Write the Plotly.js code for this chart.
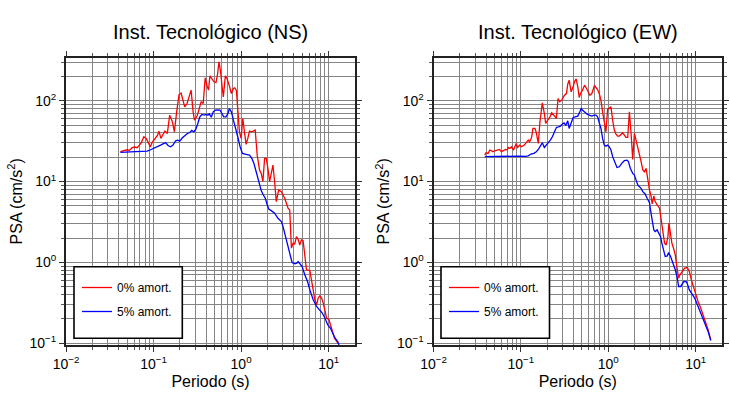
<!DOCTYPE html>
<html><head><meta charset="utf-8">
<script src="https://cdn.plot.ly/plotly-3.0.1.min.js"></script>
<style>html,body{margin:0;padding:0;background:#fff}#chart{width:730px;height:400px}</style>
</head><body><div id="chart"></div>
<script>
// ---------- Data: Inst. Tecnológico (NS) ----------
const T_NS_0 = [0.0418,0.0456,0.0498,0.0530,0.0569,0.0610,0.0649,0.0690,0.0728,0.0774,
0.0824,0.0869,0.0916,0.0966,0.1036,0.1112,0.1151,0.1214,0.1280,0.1349,
0.1436,0.1528,0.1640,0.1730,0.1837,0.1955,0.2061,0.2173,0.2270,0.2415,
0.2547,0.2685,0.2831,0.2931,0.3148,0.3319,0.3499,0.3690,0.3890,0.4064,
0.4246,0.4406,0.4645,0.4897,0.5164,0.5395,0.5585,0.5834,0.6047,0.6266,
0.6607,0.6902,0.7345,0.7745,0.8166,0.8453,0.8831,0.9162,0.9572,1.000,
1.045,1.092,1.141,1.193,1.247,1.326,1.399,1.449,1.527,1.625,
1.698,1.775,1.855,1.938,2.026,2.117,2.212,2.311,2.415,2.524,
2.685,2.884,3.013,3.148,3.289,3.437,3.592,3.690,3.756,3.924,
4.101,4.285,4.478,4.679,4.890,5.11,5.34,5.58,6.10,6.38,
6.66,6.96,7.28,7.60,7.95,8.31,8.68,9.07,9.48,10.09,
10.54,11.02,11.62,12.36,13.14];
const PSA_NS_0 = [23.4,23.8,24.7,24.3,26.2,26.7,26.2,28.2,30.5,35.8,
34.1,30.5,26.7,30.5,34.1,37.5,42.0,34.1,38.2,42.0,
39.3,66.2,54.8,41.2,72.8,119.1,123.8,101.4,83.9,92.2,
111.5,134.9,72.8,57.4,65.0,80.0,96.8,92.2,191.4,155.3,
134.9,202.8,187.9,171.0,167.6,216.3,301.3,226.9,155.3,111.5,
202.8,187.9,152.4,122.5,141.3,144.1,134.9,72.8,41.2,34.1,
60.3,41.2,28.8,34.1,42.0,41.2,42.0,43.3,21.2,13.9,
12.6,9.95,19.3,19.3,14.5,9.95,12.6,16.0,9.95,5.64,
7.85,7.49,6.81,6.20,5.38,4.67,4.45,2.52,1.50,1.73,
1.69,2.08,1.93,1.64,1.90,1.86,1.30,0.809,0.793,0.608,
0.457,0.344,0.299,0.361,0.386,0.361,0.313,0.259,0.205,0.195,
0.169,0.140,0.116,0.105,0.0958];
const T_NS_5 = [0.0418,0.0520,0.0621,0.0741,0.0846,0.0924,0.1009,0.1102,0.1203,0.1314,
0.1373,0.1475,0.1568,0.1668,0.1790,0.1887,0.1990,0.2136,0.2291,0.2438,
0.2594,0.2735,0.2884,0.3041,0.3206,0.3381,0.3565,0.3793,0.3961,0.4177,
0.4325,0.4561,0.4809,0.5071,0.5395,0.5741,0.6047,0.6321,0.6725,0.7092,
0.7345,0.7745,0.8166,0.8610,0.9162,0.9739,1.036,1.141,1.247,1.326,
1.399,1.487,1.555,1.625,1.698,1.775,1.888,1.990,2.080,2.212,
2.415,2.638,2.884,3.013,3.148,3.289,3.437,3.592,3.822,4.101,
4.325,4.478,4.679,4.979,5.34,5.74,6.10,6.66,7.28,7.95,
8.45,9.07,9.75,10.45,11.02,11.83,12.68,13.14];
const PSA_NS_5 = [22.9,23.4,23.4,23.6,23.8,24.7,25.7,26.7,28.2,29.6,
30.2,27.7,26.9,28.2,31.9,32.5,31.6,34.8,37.5,39.3,
40.4,42.8,41.2,44.5,52.2,63.1,67.5,66.2,67.5,66.2,
68.8,62.5,72.8,76.4,77.1,76.4,69.5,63.1,63.1,69.5,
80.0,72.8,57.4,47.5,35.8,26.9,22.3,21.6,21.2,19.3,
16.8,13.2,10.9,9.05,7.71,6.95,6.20,5.13,4.53,4.36,
4.05,3.51,3.19,2.77,2.29,1.81,1.50,1.24,0.995,0.957,
0.976,1.024,0.957,0.888,0.702,0.580,0.457,0.344,0.285,0.254,
0.236,0.205,0.169,0.154,0.134,0.116,0.105,0.0958];

// ---------- Data: Inst. Tecnológico (EW) ----------
const T_EW_0 = [0.0386,0.0399,0.0421,0.0441,0.0460,0.0477,0.0503,0.0535,0.0569,0.0600,
0.0621,0.0667,0.0697,0.0715,0.0748,0.0781,0.0824,0.0853,0.0883,0.0916,
0.0966,0.1018,0.1092,0.1151,0.1214,0.1258,0.1327,0.1373,0.1449,0.1500,
0.1582,0.1652,0.1758,0.1854,0.1921,0.2026,0.2136,0.2252,0.2374,0.2547,
0.2661,0.2783,0.2934,0.3148,0.3319,0.3438,0.3565,0.3758,0.3961,0.4102,
0.4285,0.4479,0.4645,0.4809,0.5071,0.5346,0.5636,0.5942,0.6152,0.6486,
0.6725,0.6966,0.7216,0.7540,0.7880,0.8238,0.8610,0.8995,0.9401,0.9825,
1.026,1.073,1.121,1.172,1.225,1.280,1.338,1.398,1.461,1.527,
1.596,1.668,1.743,1.822,1.904,1.990,2.080,2.174,2.272,2.374,
2.481,2.593,2.710,2.832,2.960,3.093,3.177,3.320,3.437,3.625,
3.857,4.031,4.213,4.402,4.601,4.808,4.937,5.16,5.34,5.64,
5.84,6.16,6.38,6.61,6.96,7.47,8.02,8.46,8.92,9.40,
9.91,10.64,11.41,12.14,12.92,13.86,14.87];
const PSA_EW_0 = [21.2,22.7,22.3,24.5,24.0,23.4,24.0,24.5,24.9,23.4,
23.8,24.9,24.5,26.4,25.7,26.9,24.5,27.4,29.6,26.4,
28.2,26.9,28.2,30.2,32.5,31.0,35.1,45.3,45.3,40.1,
29.6,54.8,94.0,69.5,52.2,57.4,62.0,70.8,66.2,60.3,
106.4,96.8,101.4,116.9,122.5,159.8,179.0,128.5,148.2,171.0,
186.1,148.2,109.4,122.5,134.9,155.3,141.3,125.0,116.9,122.5,
134.9,155.3,145.4,137.4,122.5,101.4,72.8,52.2,41.2,77.9,
80.0,83.9,57.4,43.3,38.6,36.5,36.5,38.6,40.1,37.5,
35.1,35.1,72.8,39.3,18.8,39.3,32.5,26.4,21.2,17.6,
13.9,13.2,14.5,10.4,7.85,6.50,5.28,6.62,5.64,5.13,
4.67,3.35,2.29,1.73,1.64,2.08,3.05,2.29,1.73,1.43,
1.24,0.809,0.638,0.702,0.771,0.847,0.863,0.771,0.608,0.503,
0.416,0.328,0.272,0.225,0.186,0.147,0.110];
const T_EW_5 = [0.0386,0.0512,0.0728,0.0948,0.1132,0.1214,0.1303,0.1410,0.1500,0.1582,
0.1668,0.1758,0.1854,0.1955,0.2061,0.2173,0.2291,0.2415,0.2547,0.2685,
0.2831,0.2985,0.3119,0.3261,0.3438,0.3565,0.3758,0.3961,0.4177,0.4479,
0.4724,0.4897,0.5164,0.5445,0.5741,0.6053,0.6486,0.6902,0.7216,0.7540,
0.7880,0.8238,0.8610,0.8995,0.9401,0.9825,1.026,1.073,1.121,1.193,
1.258,1.338,1.423,1.527,1.639,1.698,1.790,1.904,1.990,2.080,
2.174,2.272,2.374,2.481,2.638,2.782,2.960,3.039,3.149,3.320,
3.437,3.625,3.753,3.963,4.101,4.325,4.481,4.723,4.894,5.16,
5.34,5.64,5.84,6.16,6.38,6.72,6.96,7.34,7.74,8.02,
8.46,8.76,9.07,9.74,10.45,11.21,12.03,12.92,13.86,14.87];
const PSA_EW_5 = [20.3,20.5,20.6,20.6,20.5,20.8,21.9,22.3,23.4,24.9,
27.4,30.2,26.4,28.2,30.2,32.5,35.8,40.1,46.6,47.5,
48.5,51.3,53.2,49.3,56.3,45.3,53.2,62.0,63.1,64.4,
72.8,80.0,74.8,70.8,68.1,66.2,64.4,66.2,66.2,63.1,
54.8,45.3,34.1,28.2,27.4,28.2,26.9,24.5,20.3,16.8,
14.9,15.2,16.8,18.1,18.4,17.6,14.5,12.6,12.0,10.4,
9.05,8.63,8.24,7.49,7.01,6.20,5.48,4.45,3.51,2.52,
2.40,2.52,2.33,2.08,1.73,1.30,1.18,1.20,1.32,1.18,
1.07,0.932,0.809,0.638,0.503,0.503,0.527,0.580,0.580,0.543,
0.457,0.436,0.408,0.361,0.299,0.247,0.205,0.169,0.140,0.108];

// ---------- Labels ----------
const TITLES = ['Inst. Tecnológico (NS)', 'Inst. Tecnológico (EW)'];
const SERIES_NAMES = ['0% amort.', '5% amort.'];
const X_TICKVALS = [0.01, 0.1, 1, 10];
const X_TICKTEXT = ['10<sup>\u22122</sup>', '10<sup>\u22121</sup>', '10<sup>0</sup>', '10<sup>1</sup>'];
const Y_TICKVALS = [0.1, 1, 10, 100];
const Y_TICKTEXT = ['10<sup>\u22121</sup>', '10<sup>0</sup>', '10<sup>1</sup>', '10<sup>2</sup>'];
const X_TITLE = 'Periodo (s)';
const Y_TITLE = 'PSA (cm/s<sup>2</sup>)';

// ---------- Build ----------
const W = 730, H = 400;
const FONT = 'Liberation Sans, Arial, Helvetica, sans-serif';
const XMIN = 0.01, XMAX = 20, YMIN = 0.095, YMAX = 340;

function minorVals(lo, hi) {
  const out = [];
  for (let d = -3; d <= 3; d++) {
    for (let k = 2; k <= 9; k++) {
      const v = k * Math.pow(10, d);
      if (v > lo && v < hi) out.push(v);
    }
  }
  return out;
}
const GRID = '#858585';
function xAxis(domain, anchor) {
  return {
    domain: domain, anchor: anchor, type: 'log',
    range: [Math.log10(XMIN), Math.log10(XMAX)],
    tickmode: 'array', tickvals: X_TICKVALS, ticktext: X_TICKTEXT,
    ticks: 'outside', ticklen: 5, tickwidth: 1, tickcolor: '#333',
    showline: true, linecolor: '#222', linewidth: 2, mirror: 'ticks',
    showgrid: true, gridcolor: GRID, gridwidth: 1, zeroline: false,
    minor: {tickmode: 'array', tickvals: minorVals(XMIN, XMAX), ticks: 'outside', ticklen: 3,
            tickcolor: '#555', showgrid: true, gridcolor: GRID, gridwidth: 1},
    tickfont: {size: 14, family: FONT, color: '#000'},
    title: {text: X_TITLE, font: {size: 16, family: FONT, color: '#000'}, standoff: 5},
    fixedrange: true
  };
}
function yAxis(anchor) {
  return {
    domain: [1 - 345 / H, 1 - 57.7 / H], anchor: anchor, type: 'log',
    range: [Math.log10(YMIN), Math.log10(YMAX)],
    tickmode: 'array', tickvals: Y_TICKVALS, ticktext: Y_TICKTEXT,
    ticks: 'outside', ticklen: 5, tickwidth: 1, tickcolor: '#333',
    showline: true, linecolor: '#222', linewidth: 2, mirror: 'ticks',
    showgrid: true, gridcolor: GRID, gridwidth: 1, zeroline: false,
    minor: {tickmode: 'array', tickvals: minorVals(YMIN, YMAX), ticks: 'outside', ticklen: 3,
            tickcolor: '#555', showgrid: true, gridcolor: GRID, gridwidth: 1},
    tickfont: {size: 14, family: FONT, color: '#000'},
    title: {text: Y_TITLE, font: {size: 16, family: FONT, color: '#000'}, standoff: 3},
    fixedrange: true
  };
}

const RED = '#ff0000', BLUE = '#0000ff';
const traces = [
  {x: T_NS_0, y: PSA_NS_0, xaxis: 'x', yaxis: 'y', name: SERIES_NAMES[0], legend: 'legend', legendgroup: 'a',
   mode: 'lines', line: {color: RED, width: 1.3}},
  {x: T_NS_5, y: PSA_NS_5, xaxis: 'x', yaxis: 'y', name: SERIES_NAMES[1], legend: 'legend', legendgroup: 'b',
   mode: 'lines', line: {color: BLUE, width: 1.3}},
  {x: T_EW_0, y: PSA_EW_0, xaxis: 'x2', yaxis: 'y2', name: SERIES_NAMES[0], legend: 'legend2', legendgroup: 'c',
   mode: 'lines', line: {color: RED, width: 1.3}},
  {x: T_EW_5, y: PSA_EW_5, xaxis: 'x2', yaxis: 'y2', name: SERIES_NAMES[1], legend: 'legend2', legendgroup: 'd',
   mode: 'lines', line: {color: BLUE, width: 1.3}}
];

const dom1 = [66 / W, 355 / W];
const dom2 = [433.5 / W, 722 / W];

function legendCfg(xpx) {
  return {x: xpx / W, y: 1 - 273 / H, xanchor: 'left', yanchor: 'top',
          bgcolor: 'rgba(0,0,0,0)', borderwidth: 0, tracegroupgap: 5,
          font: {size: 12, family: FONT, color: '#000'}, itemclick: false, itemdoubleclick: false};
}
function boxShape(x0, x1) {
  return {type: 'rect', xref: 'paper', yref: 'paper', x0: x0 / W, x1: x1 / W,
          y0: 1 - 338.3 / H, y1: 1 - 266.7 / H, line: {color: '#000', width: 1.6},
          fillcolor: '#fff', layer: 'above'};
}

const layout = {
  width: W, height: H, margin: {l: 0, r: 0, t: 0, b: 0},
  paper_bgcolor: '#fff', plot_bgcolor: '#fff',
  font: {family: FONT, color: '#000'},
  showlegend: true,
  xaxis: xAxis(dom1, 'y'), yaxis: yAxis('x'),
  xaxis2: xAxis(dom2, 'y2'), yaxis2: yAxis('x2'),
  legend: legendCfg(77), legend2: legendCfg(444),
  shapes: [boxShape(74, 182.3), boxShape(441, 549.5)],
  annotations: [
    {text: TITLES[0], xref: 'paper', yref: 'paper', x: (dom1[0] + dom1[1]) / 2, y: 1 - 32 / H,
     xanchor: 'center', yanchor: 'middle', showarrow: false, font: {size: 20, family: FONT, color: '#000'}},
    {text: TITLES[1], xref: 'paper', yref: 'paper', x: (dom2[0] + dom2[1]) / 2, y: 1 - 32 / H,
     xanchor: 'center', yanchor: 'middle', showarrow: false, font: {size: 20, family: FONT, color: '#000'}}
  ]
};

Plotly.newPlot('chart', traces, layout, {staticPlot: true, displayModeBar: false});
</script></body></html>
